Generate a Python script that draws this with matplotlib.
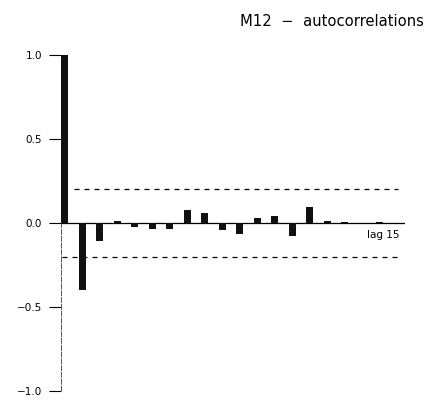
import matplotlib
matplotlib.use("Agg")
import matplotlib.pyplot as plt

# Sample autocorrelations of the M12 series, lags 0..19
lags = list(range(20))
acf = [1.00, -0.40, -0.107, 0.010, -0.025, -0.036, -0.035, 0.077, 0.060, -0.042,
       -0.065, 0.030, 0.042, -0.080, 0.095, 0.010, 0.004, 0.002, 0.003, 0.002]
conf_band = 0.20
ytick_vals = [1.0, 0.5, 0.0, -0.5, -1.0]
ytick_labels = ["1.0", "0.5", "0.0", "\u22120.5", "\u22121.0"]

W, H = 430, 405
fig = plt.figure(figsize=(W / 100, H / 100), dpi=100)
fig.patch.set_facecolor("white")

x0, x1 = 61, 405
y_top, y_bot = 55, 391
ax = fig.add_axes([x0 / W, (H - y_bot) / H, (x1 - x0) / W, (y_bot - y_top) / H])
xmax = (x1 - x0) / 17.5
ax.set_xlim(0, xmax)
ax.set_ylim(-1, 1)
ax.set_facecolor("none")
for s in ax.spines.values():
    s.set_visible(False)

# correlation bars
ax.bar(lags, acf, width=0.4, align="edge", color="#111111", zorder=3)

# zero line and vertical axis
ax.axhline(0, color="black", lw=0.9, zorder=2)
ax.plot([0, 0], [0, 1], color="black", lw=0.8, zorder=2)
ax.plot([0, 0], [-1, 0], color="#555555", lw=0.7, ls=(0, (6, 1)), zorder=2)

# approximate confidence limits
ax.plot([0.75, xmax - 0.4], [conf_band, conf_band], color="black", lw=0.9,
        ls=(0, (4, 4)), zorder=2)
ax.plot([0.05, xmax - 0.4], [-conf_band, -conf_band], color="black", lw=0.9,
        ls=(0, (4, 4)), zorder=2)

ax.set_xticks([])
ax.set_yticks(ytick_vals)
ax.set_yticklabels(ytick_labels, fontsize=7.5, family="DejaVu Sans")
ax.tick_params(axis="y", direction="out", length=8.5, width=0.8, pad=5, color="black")

ax.text(xmax - 0.3, -0.07, "lag 15", fontsize=7.5, ha="right", va="center")

fig.text(424 / W, 1 - 22 / H, "M12  \u2212  autocorrelations", fontsize=10.6,
         ha="right", va="center", family="DejaVu Sans", color="black")

fig.savefig("out.png", dpi=100, facecolor="white")
